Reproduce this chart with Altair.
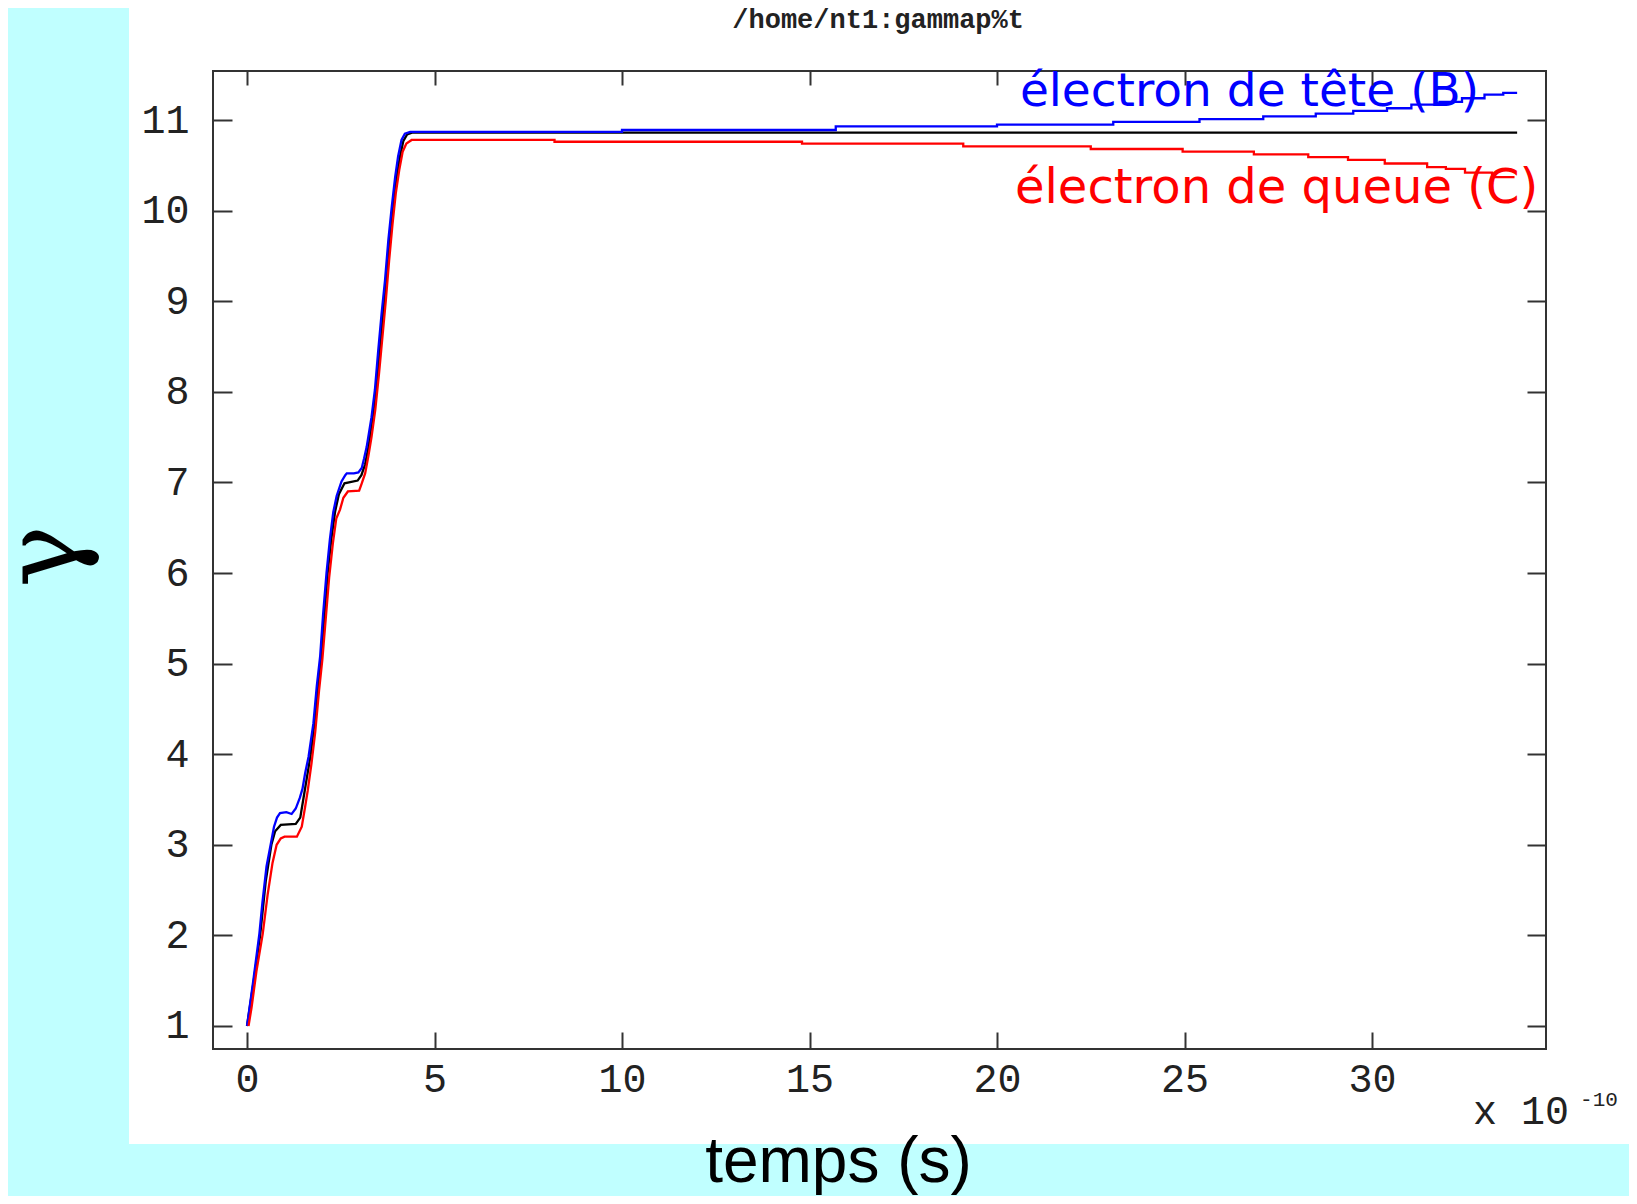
import altair as alt
import pandas as pd

# ---------------- data ----------------
black_t = [0, 0.18, 0.35, 0.50, 0.65, 0.75, 0.90, 1.30, 1.42, 1.50,
           1.60, 1.70, 1.80, 1.90, 1.98, 2.07, 2.15, 2.25, 2.35, 2.45,
           2.60, 2.95, 3.05, 3.15, 3.25, 3.35, 3.45, 3.54, 3.63, 3.72,
           3.81, 3.90, 3.99, 4.08, 4.17, 4.27, 4.40, 33.87]
black_g = [1.0, 1.5, 2.0, 2.6, 3.0, 3.15, 3.22, 3.23, 3.30, 3.50,
           3.75, 4.0, 4.35, 4.75, 5.1, 5.55, 6.0, 6.38, 6.68, 6.87,
           6.99, 7.02, 7.08, 7.2, 7.42, 7.72, 8.05, 8.46, 8.87, 9.23,
           9.68, 10.04, 10.37, 10.6, 10.77, 10.84, 10.86, 10.86]

blue_t = [0, 0.17, 0.33, 0.41, 0.52, 0.63, 0.72, 0.80, 0.88, 1.05,
          1.19, 1.30, 1.41, 1.48, 1.55, 1.64, 1.77, 1.86, 1.95, 2.03,
          2.12, 2.21, 2.30, 2.39, 2.52, 2.62, 2.66, 2.85, 2.97, 3.06,
          3.12, 3.19, 3.32, 3.41, 3.50, 3.59, 3.68, 3.77, 3.86, 3.95,
          4.03, 4.12, 4.21, 4.35,
          10.0, 10.0, 15.7, 15.7, 20.0, 20.0, 23.1, 23.1, 25.4, 25.4,
          27.1, 27.1, 28.5, 28.5, 29.5, 29.5, 30.4, 30.4, 31.05, 31.05,
          31.8, 31.8, 32.4, 32.4, 33.0, 33.0, 33.5, 33.5, 33.87]
blue_g = [1.0, 1.51, 2.02, 2.36, 2.76, 3.0, 3.2, 3.3, 3.35, 3.36,
          3.34, 3.40, 3.52, 3.62, 3.79, 3.97, 4.34, 4.75, 5.08, 5.55,
          6.0, 6.37, 6.67, 6.85, 7.01, 7.08, 7.10, 7.10, 7.11, 7.16,
          7.26, 7.39, 7.72, 8.02, 8.46, 8.87, 9.23, 9.68, 10.04, 10.37,
          10.6, 10.78, 10.85, 10.87,
          10.87, 10.89, 10.89, 10.93, 10.93, 10.95, 10.95, 10.98, 10.98, 11.01,
          11.01, 11.04, 11.04, 11.07, 11.07, 11.10, 11.10, 11.13, 11.13, 11.17,
          11.17, 11.20, 11.20, 11.24, 11.24, 11.28, 11.28, 11.30, 11.30]

red_t = [0.04, 0.12, 0.25, 0.42, 0.55, 0.68, 0.79, 0.90, 1.00, 1.33,
         1.46, 1.55, 1.62, 1.72, 1.82, 1.92, 2.01, 2.10, 2.19, 2.29,
         2.38, 2.48, 2.57, 2.69, 2.99, 3.06, 3.15, 3.24, 3.32, 3.42,
         3.52, 3.61, 3.70, 3.79, 3.88, 3.97, 4.06, 4.15, 4.25, 4.39,
         8.2, 8.2, 14.8, 14.8, 19.1, 19.1, 22.5, 22.5, 24.95, 24.95,
         26.85, 26.85, 28.3, 28.3, 29.36, 29.36, 30.34, 30.34, 31.47, 31.47,
         31.97, 31.97, 32.48, 32.48, 33.2, 33.2, 33.8]
red_g = [1.0, 1.2, 1.6, 2.02, 2.45, 2.8, 3.0, 3.07, 3.09, 3.09,
         3.2, 3.42, 3.6, 3.9, 4.25, 4.7, 5.05, 5.5, 5.95, 6.33,
         6.6, 6.7, 6.83, 6.90, 6.91, 6.99, 7.1, 7.3, 7.5, 7.8,
         8.2, 8.6, 9.0, 9.45, 9.85, 10.2, 10.45, 10.65, 10.74, 10.78,
         10.78, 10.76, 10.76, 10.74, 10.74, 10.71, 10.71, 10.68, 10.68, 10.65,
         10.65, 10.62, 10.62, 10.59, 10.59, 10.56, 10.56, 10.52, 10.52, 10.48,
         10.48, 10.46, 10.46, 10.42, 10.42, 10.37, 10.37]

series_names = ["reference", "tete", "queue"]
series_colors = ["#000000", "#0000ff", "#ff0000"]

ann_text = ["électron de tête (B)", "électron de queue (C)"]
ann_t = [20.61, 20.48]
ann_g = [11.155, 10.084]
ann_color = ["#0000ff", "#ff0000"]
ann_size = [47, 48]

exp_text = ["x 10", "-10"]
exp_t = [32.69, 35.55]
exp_g = [-0.082, 0.117]
exp_size = [40, 21]

title_text = ["/home/nt1:gammap%t"]
title_t = [16.83]
title_g = [12.015]

x_domain = [-0.907, 34.64]
y_domain = [0.746, 11.541]
x_ticks = [0, 5, 10, 15, 20, 25, 30]
y_ticks = [1, 2, 3, 4, 5, 6, 7, 8, 9, 10, 11]

# ---------------- tables ----------------
rows = []
for name, ts, gs in zip(series_names, [black_t, blue_t, red_t], [black_g, blue_g, red_g]):
    assert len(ts) == len(gs)
    for i, (t, g) in enumerate(zip(ts, gs)):
        rows.append({"series": name, "t": t, "g": g, "i": i})
lines_df = pd.DataFrame(rows)
ann_df = pd.DataFrame({"text": ann_text, "t": ann_t, "g": ann_g, "c": ann_color, "s": ann_size})
exp_df = pd.DataFrame({"text": exp_text, "t": exp_t, "g": exp_g, "s": exp_size})
title_df = pd.DataFrame({"text": title_text, "t": title_t, "g": title_g})

# ---------------- layout ----------------
W, H = 1333, 978
PAD = {"left": 205, "top": 63, "right": 83, "bottom": 147}
AX = "#333333"
MONO = "Liberation Mono"

xs = alt.Scale(domain=x_domain, nice=False, zero=False)
ys = alt.Scale(domain=y_domain, nice=False, zero=False)

panel = alt.Chart(alt.Data(values=[{}])).mark_rect(color="white").encode(
    x=alt.value(-84), x2=alt.value(W + PAD["right"]),
    y=alt.value(-64), y2=alt.value(H + 95))

frame = alt.Chart(alt.Data(values=[{}])).mark_rect(
    filled=False, stroke=AX, strokeWidth=2).encode(
    x=alt.value(0), x2=alt.value(W), y=alt.value(0), y2=alt.value(H))

x_bottom = alt.Axis(orient="bottom", values=x_ticks, offset=-17, tickSize=17,
                    tickWidth=2, tickColor=AX, domain=False, grid=False,
                    labelFont=MONO, labelFontSize=40, labelColor="#222222",
                    labelPadding=10, labelFlush=False, labelOverlap=False,
                    title="temps (s)", titleFont="Liberation Sans", titleFontSize=64,
                    titleFontWeight="normal", titleColor="#000000",
                    titleX=625, titleY=149, titleAlign="center",
                    titleBaseline="alphabetic", zindex=1)
y_left = alt.Axis(orient="left", values=y_ticks, offset=-19, tickSize=19,
                  tickWidth=2, tickColor=AX, domain=False, grid=False,
                  labelFont=MONO, labelFontSize=40, labelColor="#222222",
                  labelPadding=24, labelFlush=False, labelOverlap=False,
                  title="γ", titleFont="DejaVu Serif", titleFontSize=104,
                  titleFontWeight="normal", titleColor="#000000", titleAngle=270,
                  titleX=-156, titleY=485, titleAlign="center",
                  titleBaseline="alphabetic", zindex=1)
x_top = alt.Axis(orient="top", values=x_ticks, offset=-14, tickSize=14,
                 tickWidth=2, tickColor=AX, domain=False, grid=False,
                 labels=False, title="", zindex=1)
y_right = alt.Axis(orient="right", values=y_ticks, offset=-19, tickSize=19,
                   tickWidth=2, tickColor=AX, domain=False, grid=False,
                   labels=False, title="", zindex=1)

lines = alt.Chart(lines_df).mark_line(strokeWidth=2.3).encode(
    x=alt.X("t:Q", scale=xs, axis=x_bottom),
    y=alt.Y("g:Q", scale=ys, axis=y_left),
    color=alt.Color("series:N", scale=alt.Scale(domain=series_names, range=series_colors),
                    legend=None),
    order=alt.Order("i:Q"),
    detail="series:N")

exps = alt.Chart(exp_df).mark_text(font=MONO, align="left", baseline="alphabetic",
                                   color="#222222").encode(
    x=alt.X("t:Q", scale=xs, axis=None),
    y=alt.Y("g:Q", scale=ys, axis=None),
    size=alt.Size("s:Q", scale=None, legend=None),
    text="text:N")

title = alt.Chart(title_df).mark_text(font=MONO, fontSize=27, fontWeight="bold",
                                      align="center", baseline="alphabetic",
                                      color="#222222").encode(
    x=alt.X("t:Q", scale=xs, axis=None),
    y=alt.Y("g:Q", scale=ys, axis=None),
    text="text:N")

ann = alt.Chart(ann_df).mark_text(font="DejaVu Sans", align="left",
                                  baseline="alphabetic").encode(
    x=alt.X("t:Q", scale=xs, axis=x_top),
    y=alt.Y("g:Q", scale=ys, axis=y_right),
    color=alt.Color("c:N", scale=None, legend=None),
    size=alt.Size("s:Q", scale=None, legend=None),
    text="text:N")

chart = alt.layer(panel, frame, lines, exps, title, ann).properties(
    width=W, height=H,
    autosize=alt.AutoSizeParams(type="none"),
    padding=PAD,
    background="#c0ffff",
).configure_view(strokeWidth=0)

chart.save("out.html", embed_options={"renderer": "svg", "actions": False})
